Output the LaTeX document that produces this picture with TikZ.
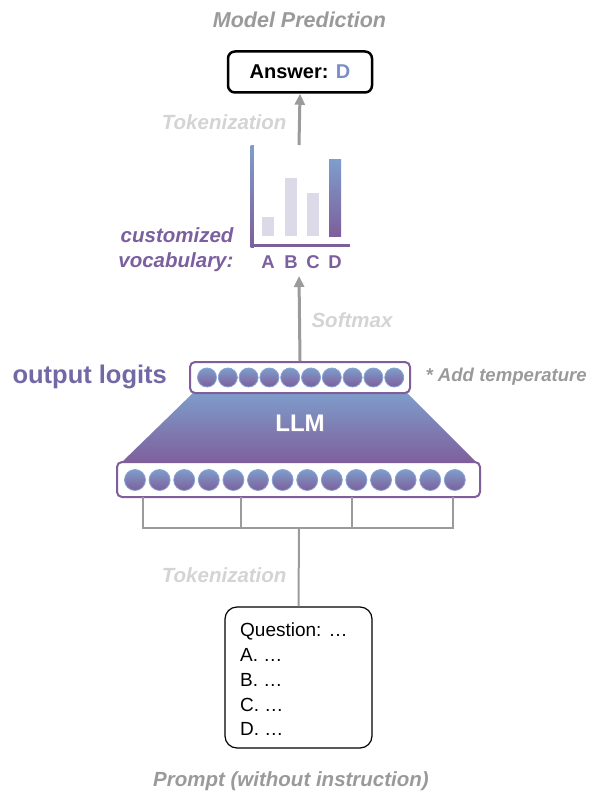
\documentclass[tikz,border=0pt]{standalone}
\usepackage{fontspec}
\setmainfont{Liberation Sans}
\usetikzlibrary{arrows.meta}
\definecolor{llmblue}{HTML}{7E9DCB}
\definecolor{llmpurple}{HTML}{7E5E9B}
\definecolor{vocpurple}{HTML}{7B5F9F}
\definecolor{logitcol}{HTML}{7268A6}
\definecolor{grayline}{HTML}{9B9B9B}
\definecolor{graytext}{HTML}{9A9A9A}
\definecolor{palegray}{HTML}{D4D4D4}
\definecolor{barcol}{HTML}{DCD9E8}
\definecolor{answerblue}{HTML}{7A8FC8}
\definecolor{ringblue}{HTML}{86A4D2}
\newcommand{\fsz}[1]{\fontsize{#1}{#1}\selectfont}

\begin{document}
\begin{tikzpicture}[x=1pt,y=-1pt,
    arrow/.style={draw=grayline, line width=3pt, -{Triangle[length=11pt,width=10pt]}},
    wire/.style={draw=grayline, line width=2pt},
    tag/.style={font=\fsz{20.5}\bfseries\itshape},
    neuron/.style={top color=llmblue, bottom color=llmpurple, draw=ringblue, line width=0.8pt},
    layerbox/.style={draw=llmpurple, line width=2pt, fill=white, rounded corners=5pt}]
    \useasboundingbox (0,0) rectangle (594,794);

    % top: prediction
    \node[tag, font=\fsz{21.5}\bfseries\itshape, text=graytext] (title) at (299.5,20) {Model Prediction};
    \node[draw, line width=2.5pt, rounded corners=7pt, minimum width=144pt, minimum height=41pt,
          font=\fsz{20}\bfseries] (answer) at (300,72) {Answer: \textcolor{answerblue}{D}};
    \node[tag, text=palegray, anchor=east] (tok1) at (290,122) {Tokenization};

    % bar chart over the vocabulary
    \shade[top color=llmblue, bottom color=llmpurple] (250.5,146) rectangle (253.8,247);
    \fill[llmpurple] (250.5,243.5) rectangle (350,247);
    \fill[barcol] (262,217) rectangle (274,236);
    \fill[barcol] (284.5,178) rectangle (297,236);
    \fill[barcol] (307,193) rectangle (319,236);
    \shade[top color=llmblue, bottom color=llmpurple] (329,160) rectangle (341,236);
    \foreach \c/\xx in {A/268, B/291, C/313, D/335}
        \node[font=\fsz{18.5}\bfseries, text=vocpurple] (lab\c) at (\xx,262) {\c};
    \node[tag, text=vocpurple, anchor=base east] (cust) at (237,242) {customized};
    \node[tag, text=vocpurple, anchor=base east] (vocab) at (237,267) {vocabulary:};
    \coordinate (chart) at (299,145);
    \coordinate (below) at (299,276);

    % output logits
    \shade[top color=llmblue, bottom color=llmpurple]
        (194,392) -- (406,392) -- (478,464) -- (120,464) -- cycle;
    \node[font=\fsz{24}\bfseries, text=white!60!black, opacity=0.5] (llmshadow) at (301,424.5) {LLM};
    \node[font=\fsz{24}\bfseries, text=white] (llm) at (300,423) {LLM};
    \node[layerbox, minimum width=220pt, minimum height=31pt] (logits) at (300,377.5) {};
    \foreach \i in {0,...,9}
        \shadedraw[neuron] (207+\i*20.8,377.5) circle (9.5pt);
    \node[font=\fsz{25.5}\bfseries, text=logitcol, anchor=west] (outlab) at (9,377) {output logits};
    \node[font=\fsz{18.6}\bfseries\itshape, text=graytext, anchor=west] (temp) at (422,377) {* Add temperature};
    \node[tag, text=palegray] (soft) at (352,320) {Softmax};

    % input layer
    \node[layerbox, minimum width=363pt, minimum height=35pt] (inputs) at (298.5,479.5) {};
    \foreach \i in {0,...,13}
        \shadedraw[neuron] (135+\i*24.6,480) circle (10.5pt);

    % prompt
    \node[draw, line width=1.2pt, rounded corners=12pt, minimum width=147pt, minimum height=141pt] (prompt) at (298.5,677.5) {};
    \foreach \t/\yy in {Question: …/636, A. …/661, B. …/686, C. …/711, D. …/735}
        \node[font=\fsz{19}, anchor=base west, inner sep=0pt] at (240,\yy) {\t};
    \node[tag, text=palegray, anchor=east] (tok2) at (290,575) {Tokenization};
    \node[tag, text=graytext] (prlab) at (291,781) {Prompt (without instruction)};

    % connectors
    \coordinate (split) at (299,528);
    \draw[wire] (prompt.north) -- (split);
    \draw[wire] (143,497) |- (453,528) -- (453,497);
    \draw[wire] (241,497) -- (241,528);
    \draw[wire] (352,497) -- (352,528);
    \draw[arrow] (logits.north) -- (below);
    \draw[arrow] (chart) -- (answer.south);
\end{tikzpicture}
\end{document}
